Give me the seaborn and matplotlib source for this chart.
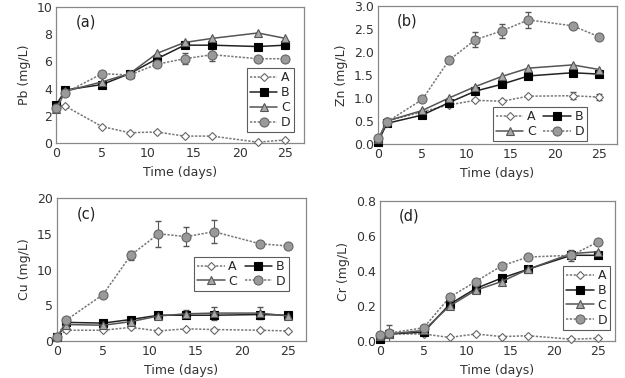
import numpy as np
import pandas as pd
import matplotlib
matplotlib.use("Agg")
import matplotlib.pyplot as plt
import seaborn as sns

days = [0, 1, 5, 8, 11, 14, 17, 22, 25]
series_names = ["A", "B", "C", "D"]

# Pb (mg/L)
pb_a = [2.8, 2.7, 1.2, 0.75, 0.8, 0.5, 0.5, 0.05, 0.22]
pb_b = [2.8, 3.9, 4.3, 5.1, 6.2, 7.2, 7.2, 7.1, 7.2]
pb_c = [2.5, 3.8, 4.5, 5.1, 6.6, 7.4, 7.7, 8.1, 7.7]
pb_d = [2.6, 3.7, 5.1, 5.0, 5.8, 6.2, 6.5, 6.2, 6.2]
pb_d_err = [0, 0, 0, 0, 0, 0.4, 0.45, 0, 0]

# Zn (mg/L)
zn_a = [0.1, 0.5, 0.7, 0.85, 0.95, 0.93, 1.04, 1.05, 1.02]
zn_b = [0.05, 0.45, 0.63, 0.9, 1.15, 1.3, 1.48, 1.55, 1.52]
zn_c = [0.1, 0.5, 0.73, 1.0, 1.25, 1.47, 1.65, 1.72, 1.62]
zn_d = [0.12, 0.48, 0.97, 1.82, 2.27, 2.46, 2.7, 2.57, 2.33]
zn_d_err = [0, 0.08, 0, 0, 0.17, 0.15, 0.18, 0, 0]
zn_a_err = [0, 0, 0, 0, 0, 0, 0, 0.08, 0.06]

# Cu (mg/L)
cu_a = [0.5, 1.5, 1.5, 1.9, 1.4, 1.7, 1.6, 1.5, 1.4]
cu_b = [0.5, 2.6, 2.5, 3.0, 3.6, 3.6, 3.6, 3.7, 3.6]
cu_c = [0.5, 2.3, 2.2, 2.7, 3.5, 3.8, 3.9, 3.9, 3.5]
cu_d = [0.5, 2.9, 6.5, 12.0, 15.0, 14.6, 15.3, 13.6, 13.3]
cu_d_err = [0, 0, 0, 0.6, 1.8, 1.3, 1.6, 0, 0]
cu_c_err = [0, 0, 0, 0, 0.3, 0.6, 0.9, 0.8, 0]

# Cr (mg/L)
cr_a = [0.03, 0.04, 0.04, 0.02, 0.04, 0.025, 0.03, 0.01, 0.015]
cr_b = [0.01, 0.04, 0.05, 0.21, 0.30, 0.36, 0.41, 0.49, 0.49]
cr_c = [0.03, 0.04, 0.06, 0.20, 0.29, 0.34, 0.41, 0.50, 0.51]
cr_d = [0.035, 0.045, 0.075, 0.25, 0.34, 0.43, 0.48, 0.49, 0.565]
cr_a_err = [0, 0.05, 0, 0, 0, 0, 0, 0, 0]
cr_b_err = [0, 0, 0, 0.03, 0, 0, 0, 0, 0]
cr_d_err = [0, 0, 0, 0, 0, 0, 0, 0.03, 0]

styles = {
    "A": dict(marker="D", mfc="white", mec="#666666", color="#777777", ls=(0, (1.5, 1)), ms=4.5),
    "B": dict(marker="s", mfc="black", mec="black", color="#222222", ls="-", ms=5.5),
    "C": dict(marker="^", mfc="#a8a8a8", mec="#555555", color="#555555", ls="-", ms=6),
    "D": dict(marker="o", mfc="#9a9a9a", mec="#666666", color="#777777", ls=(0, (1.5, 1)), ms=6.5),
}

sns.set_style("white")
plt.rcParams["font.family"] = ["DejaVu Sans"]
fig = plt.figure(figsize=(6.25, 3.78), dpi=100)

panels = [
    dict(pos=[0.090, 0.622, 0.396, 0.359], vals=[pb_a, pb_b, pb_c, pb_d],
         errs={"D": pb_d_err}, ylim=(0, 10), yticks=[0, 2, 4, 6, 8, 10], fmt="{:.0f}",
         ylabel="Pb (mg/L)", tag="(a)", ncol=1, loc=(0.77, 0.08)),
    dict(pos=[0.605, 0.619, 0.382, 0.365], vals=[zn_a, zn_b, zn_c, zn_d],
         errs={"D": zn_d_err, "A": zn_a_err}, ylim=(0, 3.0), yticks=[0, 0.5, 1.0, 1.5, 2.0, 2.5, 3.0], fmt="{:.1f}",
         ylabel="Zn (mg/L)", tag="(b)", ncol=2, loc=(0.48, 0.02)),
    dict(pos=[0.091, 0.098, 0.399, 0.378], vals=[cu_a, cu_b, cu_c, cu_d],
         errs={"D": cu_d_err, "C": cu_c_err}, ylim=(0, 20), yticks=[0, 5, 10, 15, 20], fmt="{:.0f}",
         ylabel="Cu (mg/L)", tag="(c)", ncol=2, loc=(0.55, 0.35)),
    dict(pos=[0.608, 0.098, 0.376, 0.370], vals=[cr_a, cr_b, cr_c, cr_d],
         errs={"A": cr_a_err, "B": cr_b_err, "D": cr_d_err}, ylim=(0, 0.8), yticks=[0, 0.2, 0.4, 0.6, 0.8], fmt="{:.1f}",
         ylabel="Cr (mg/L)", tag="(d)", ncol=1, loc=(0.78, 0.08)),
]

for p in panels:
    ax = fig.add_axes(p["pos"])
    for name, vals in zip(series_names, p["vals"]):
        st = styles[name]
        if name in p["errs"]:
            err = np.array(p["errs"][name], dtype=float)
            mask = err > 0
            ax.errorbar(np.array(days)[mask], np.array(vals)[mask], yerr=err[mask],
                        fmt="none", ecolor="#555555", elinewidth=0.8, capsize=2, zorder=2)
        sns.lineplot(x=days, y=vals, ax=ax, label=name, color=st["color"], linestyle=st["ls"],
                     marker=st["marker"], markerfacecolor=st["mfc"], markeredgecolor=st["mec"],
                     markersize=st["ms"], markeredgewidth=0.8, linewidth=1.1, zorder=3,
                     clip_on=False)
    ax.set_xlim(0, 27)
    ax.set_ylim(*p["ylim"])
    ax.set_xticks([0, 5, 10, 15, 20, 25])
    ax.set_yticks(p["yticks"])
    ax.set_yticklabels([p["fmt"].format(v) for v in p["yticks"]])
    ax.set_xlabel("Time (days)", fontsize=9, color="#333333")
    ax.set_ylabel(p["ylabel"], fontsize=9, color="#333333")
    ax.tick_params(labelsize=9, colors="#333333", length=0, pad=3)
    for s in ax.spines.values():
        s.set_color("#888888")
        s.set_linewidth(0.9)
    ax.text(0.08, 0.86, p["tag"], transform=ax.transAxes, fontsize=10.5, color="#222222")
    handles, labels = ax.get_legend_handles_labels()
    if p["ncol"] == 2:
        order = [0, 2, 1, 3]
        handles = [handles[i] for i in order]
        labels = [labels[i] for i in order]
    leg = ax.legend(handles, labels, ncol=p["ncol"], loc="lower left", bbox_to_anchor=p["loc"],
                    fontsize=9, frameon=True, fancybox=False, handlelength=2.2, handletextpad=0.3,
                    columnspacing=0.6, borderpad=0.25, labelspacing=0.15, borderaxespad=0)
    leg.get_frame().set_edgecolor("#333333")
    leg.get_frame().set_linewidth(0.8)

fig.savefig("out.png", dpi=100)
